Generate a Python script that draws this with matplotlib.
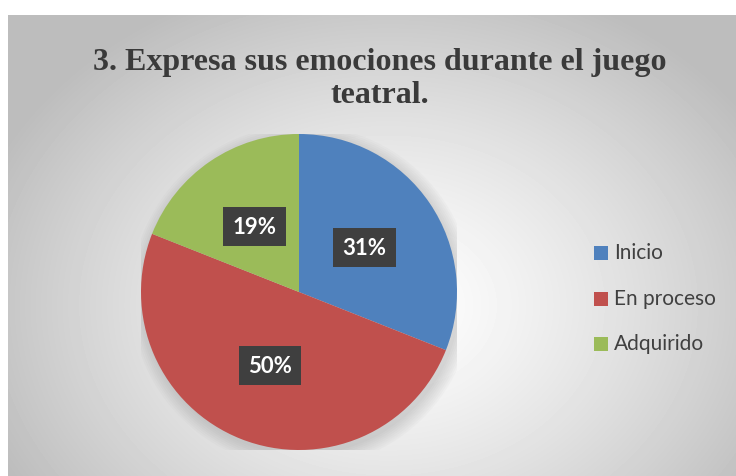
import numpy as np
import matplotlib
matplotlib.use("Agg")
import matplotlib.pyplot as plt
from matplotlib.patches import Rectangle

# data
categories = ["Inicio", "En proceso", "Adquirido"]
values = [31, 50, 19]
colors = ["#4F81BD", "#C0504D", "#9BBB59"]
title = "3. Expresa sus emociones durante el juego\nteatral."

W, H = 736, 477
fig = plt.figure(figsize=(W / 100, H / 100), dpi=100)
fig.patch.set_facecolor("white")

# chart area with radial gradient background
bg = fig.add_axes([8 / W, 0, 1 - 8 / W, 1 - 16 / H])
yy, xx = np.mgrid[0:461, 0:728]
cx, cy = 380, 290
d = np.sqrt(((xx - cx) / 420.0) ** 2 + ((yy - cy) / 330.0) ** 2)
g = np.clip(1.0 - 0.25 * d ** 1.3, 0.74, 1.0)
bg.imshow(g, cmap="gray", vmin=0, vmax=1, aspect="auto", extent=[0, 1, 0, 1])
bg.set_axis_off()

# pie
cxp, cyp, r = 299, 293, 158
ax = fig.add_axes([(cxp - r) / W, (H - cyp - r) / H, 2 * r / W, 2 * r / H])
ax.set_facecolor("none")

# soft shadow under pie
for k in range(8):
    ax.add_patch(plt.Circle((0.02, -0.03), 1.0 + 0.012 * k, color="#777777",
                            alpha=0.035, lw=0, zorder=0))

wedges, texts, autotexts = ax.pie(
    values, colors=colors, startangle=90, counterclock=False,
    autopct="%1.0f%%", pctdistance=0.5, radius=1.0,
    wedgeprops=dict(linewidth=0),
    textprops=dict(color="white", fontsize=16, fontweight="bold", family="Lato"),
)
for t in autotexts:
    t.set_bbox(dict(boxstyle="square,pad=0.42", facecolor="#3F3F3F", edgecolor="none"))
ax.set_xlim(-1, 1)
ax.set_ylim(-1, 1)
ax.set_aspect("equal")
ax.set_axis_off()

# title
fig.text(380 / W, 1 - 79 / H, title, ha="center", va="center", fontsize=23,
         fontweight="bold", family="Liberation Serif", color="#3A3A3A",
         linespacing=1.2)

# legend
leg_y = [253, 299, 344]
for name, col, y in zip(categories, colors, leg_y):
    fig.patches.append(Rectangle((594 / W, 1 - (y + 8) / H), 14 / W, 14 / H,
                                 transform=fig.transFigure, facecolor=col,
                                 edgecolor="none", figure=fig))
    fig.text(614 / W, 1 - y / H, name, ha="left", va="center", fontsize=15,
             family="Lato", color="#404040")

fig.savefig("out.png", dpi=100)
